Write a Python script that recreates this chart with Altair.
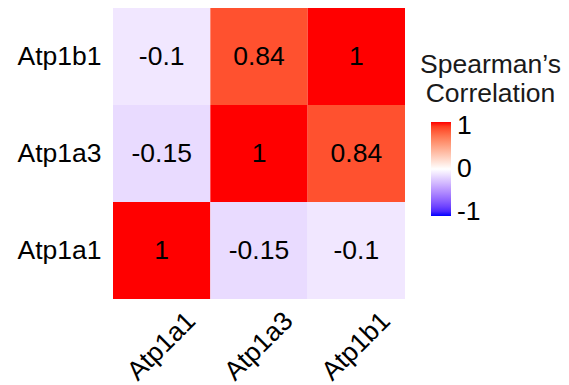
import altair as alt
import pandas as pd

genes = ["Atp1a1", "Atp1a3", "Atp1b1"]
x_gene = ["Atp1a1", "Atp1a3", "Atp1b1", "Atp1a1", "Atp1a3", "Atp1b1", "Atp1a1", "Atp1a3", "Atp1b1"]
y_gene = ["Atp1a1", "Atp1a1", "Atp1a1", "Atp1a3", "Atp1a3", "Atp1a3", "Atp1b1", "Atp1b1", "Atp1b1"]
rho = [1, -0.15, -0.1, -0.15, 1, 0.84, -0.1, 0.84, 1]
# colourbar tick positions (ggplot insets the end ticks slightly inside the bar)
legend_values = [-0.92, 0, 0.92]
legend_title = "Spearman’s\nCorrelation"

df = pd.DataFrame({
    "x": x_gene,
    "y": y_gene,
    "rho": rho,
    "label": [f"{v:g}" for v in rho],
})

FONT = "Liberation Sans"
FS = 26.5

x_enc = alt.X("x:N", sort=genes, title=None,
              scale=alt.Scale(paddingInner=0, paddingOuter=0),
              axis=alt.Axis(labelAngle=-45, labelAlign="center", labelBaseline="middle",
                            labelPadding=47, labelFontSize=FS, labelFont=FONT,
                            labelColor="black", ticks=False, tickSize=0, domain=False))
y_enc = alt.Y("y:N", sort=genes[::-1], title=None,
              scale=alt.Scale(paddingInner=0, paddingOuter=0),
              axis=alt.Axis(labelAlign="right", labelBaseline="middle", labelPadding=12,
                            labelFontSize=FS, labelFont=FONT, labelColor="black",
                            ticks=False, tickSize=0, domain=False))

base = alt.Chart(df)

tiles = base.mark_rect().encode(
    x=x_enc,
    y=y_enc,
    color=alt.Color("rho:Q",
                    scale=alt.Scale(domain=[-1, 0, 1], range=["blue", "white", "red"],
                                    interpolate="lab"),
                    legend=alt.Legend(
                        title=None, orient="none", legendX=318, legendY=114,
                        direction="vertical", gradientLength=94, gradientThickness=20,
                        gradientStrokeWidth=0, values=legend_values,
                        labelFontSize=FS, labelFont=FONT, labelColor="black",
                        labelOffset=6, labelBaseline="middle",
                        labelExpr="datum.value < 0 ? '-' + round(-datum.value) : '' + round(datum.value)",
                    )),
)

texts = base.mark_text(fontSize=FS, font=FONT, color="black").encode(
    x=alt.X("x:N", sort=genes),
    y=alt.Y("y:N", sort=genes[::-1]),
    text="label:N",
)

title_df = pd.DataFrame({"t": [legend_title]})
legend_title_mark = alt.Chart(title_df).mark_text(
    fontSize=FS, font=FONT, color="#1a1a1a", align="center", baseline="alphabetic",
    lineBreak="\n", lineHeight=29,
).encode(x=alt.value(377.5), y=alt.value(65.3), text="t:N")

chart = alt.layer(tiles, texts, legend_title_mark).properties(
    width=292, height=291,
    autosize=alt.AutoSizeParams(type="none"),
    padding={"left": 113, "top": 8, "right": 164, "bottom": 86},
).configure_view(stroke=None).configure_axis(grid=False)

chart.save("out.html", embed_options={"renderer": "svg", "actions": False})
